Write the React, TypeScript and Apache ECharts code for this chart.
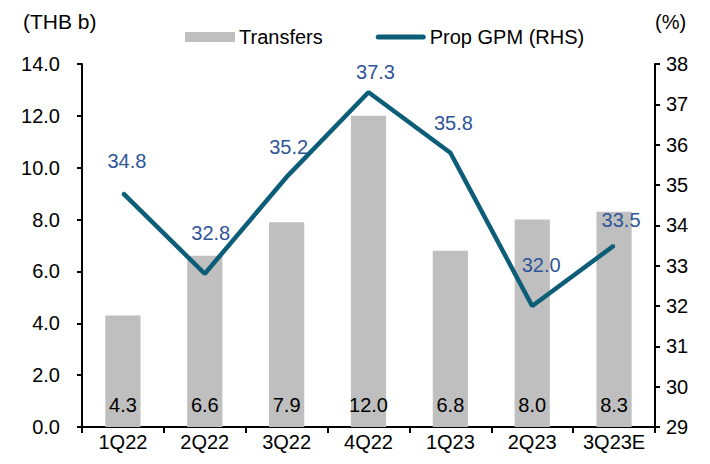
import React, { useEffect, useRef } from "react";
import * as echarts from "echarts";

const categories = ["1Q22", "2Q22", "3Q22", "4Q22", "1Q23", "2Q23", "3Q23E"];
const transfers = [4.3, 6.6, 7.9, 12.0, 6.8, 8.0, 8.3];
const propGpm = [34.8, 32.8, 35.2, 37.3, 35.8, 32.0, 33.5];
// label offsets [dx, dy] for the line labels (style only)
const gpmLabelOffsets = [
  [4, -21],
  [6, -30],
  [2, -19],
  [7, -9],
  [3, -19],
  [9, -30],
  [7, -15],
];

const FONT = "Liberation Sans, Arial, sans-serif";
const FS = 20;
const LINE_COLOR = "#0B5D78";

export default function App() {
  const ref = useRef<HTMLDivElement>(null);
  useEffect(() => {
    if (!ref.current) return;
    const chart = echarts.init(ref.current, undefined, { renderer: "svg" });
    chart.setOption({
      animation: false,
      textStyle: { fontFamily: FONT },
      grid: { left: 82, right: 55, top: 64, bottom: 37, containLabel: false },
      legend: {
        top: 27,
        left: 185,
        padding: 0,
        itemGap: 53,
        itemWidth: 50,
        itemHeight: 10,
        symbolKeepAspect: true,
        textStyle: { fontFamily: FONT, fontSize: FS, color: "#000", padding: [0, 0, 0, -1] },
        data: [
          { name: "Transfers", icon: "rect" },
          {
            name: "Prop GPM (RHS)",
            icon: "path://M2.5,0 L47.5,0 A2.5,2.5 0 0 1 47.5,5 L2.5,5 A2.5,2.5 0 0 1 2.5,0 Z",
          },
        ],
      },
      graphic: [
        { type: "text", left: 23, top: 11, style: { text: "(THB b)", font: `21px ${FONT}`, fill: "#000" } },
        { type: "text", left: 655, top: 12, style: { text: "(%)", font: `${FS}px ${FONT}`, fill: "#000" } },
      ],
      xAxis: {
        type: "category",
        data: categories,
        axisLine: { lineStyle: { color: "#000", width: 2 } },
        axisTick: { show: true, length: 6, lineStyle: { color: "#000", width: 2 } },
        axisLabel: { fontSize: FS, color: "#000", fontFamily: FONT, margin: 5 },
      },
      yAxis: [
        {
          type: "value",
          min: 0,
          max: 14,
          interval: 2,
          axisLine: { show: true, lineStyle: { color: "#000", width: 2 } },
          axisTick: { show: true, length: 5, lineStyle: { color: "#000", width: 2 } },
          splitLine: { show: false },
          axisLabel: { fontSize: FS, color: "#000", fontFamily: FONT, margin: 22, formatter: (v: number) => v.toFixed(1) },
        },
        {
          type: "value",
          min: 29,
          max: 38,
          interval: 1,
          position: "right",
          axisLine: { show: true, lineStyle: { color: "#000", width: 2 } },
          axisTick: { show: true, length: 5, lineStyle: { color: "#000", width: 2 } },
          splitLine: { show: false },
          axisLabel: { fontSize: FS, color: "#000", fontFamily: FONT, margin: 11 },
        },
      ],
      series: [
        {
          name: "Transfers",
          type: "bar",
          data: transfers,
          barWidth: "43%",
          itemStyle: { color: "#BFBFBF" },
          label: {
            show: true,
            position: "insideBottom",
            distance: 12,
            fontSize: FS,
            color: "#000",
            fontFamily: FONT,
            formatter: (p: any) => Number(p.value).toFixed(1),
          },
        },
        {
          name: "Prop GPM (RHS)",
          type: "line",
          yAxisIndex: 1,
          data: propGpm.map((v, i) => ({
            value: v,
            label: { offset: gpmLabelOffsets[i] },
          })),
          symbol: "circle",
          symbolSize: 2,
          showSymbol: true,
          lineStyle: { color: LINE_COLOR, width: 4.5 },
          itemStyle: { color: LINE_COLOR },
          label: {
            show: true,
            position: "top",
            distance: 0,
            fontSize: FS,
            color: "#2F5597",
            fontFamily: FONT,
            formatter: (p: any) => Number(p.value).toFixed(1),
          },
        },
      ],
    });
    return () => chart.dispose();
  }, []);
  return <div ref={ref} style={{ width: 710, height: 464, position: "absolute", left: 0, top: 0 }} />;
}
